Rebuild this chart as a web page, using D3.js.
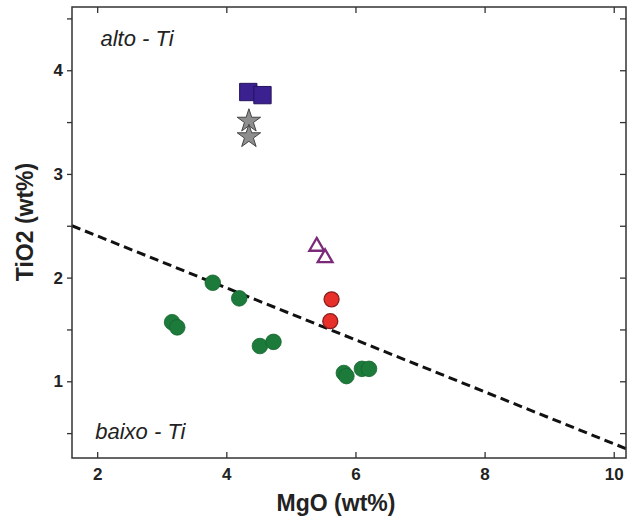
<!DOCTYPE html>
<html>
<head>
<meta charset="utf-8">
<script src="https://cdn.jsdelivr.net/npm/d3@7"></script>
<style>
  html, body { margin: 0; padding: 0; background: #fff; }
  svg { display: block; }
</style>
</head>
<body>
<svg id="chart" width="627" height="519"></svg>
<script>
// ---- data ----
const xTicks = [2, 4, 6, 8, 10];
const yMajorTicks = [1, 2, 3, 4];
const yAllTicks = [0.5, 1, 1.5, 2, 2.5, 3, 3.5, 4, 4.5];

const greenMgO  = [3.79, 4.20, 3.16, 3.24, 4.52, 4.73, 5.82, 5.86, 6.10, 6.21];
const greenTiO2 = [1.95, 1.80, 1.57, 1.52, 1.34, 1.38, 1.08, 1.05, 1.12, 1.12];

const redMgO  = [5.63, 5.61];
const redTiO2 = [1.79, 1.58];

const squareMgO  = [4.34, 4.56];
const squareTiO2 = [3.79, 3.76];

const starMgO  = [4.35, 4.35];
const starTiO2 = [3.51, 3.36];

const triMgO  = [5.40, 5.53];
const triTiO2 = [2.30, 2.19];

const lineMgO  = [1.61, 10.19];
const lineTiO2 = [2.50, 0.35];

const labels = [
  { text: "alto - Ti",  x: 2.05, y: 4.23 },
  { text: "baixo - Ti", x: 1.97, y: 0.44 }
];

// ---- layout ----
const svg = d3.select("#chart");
const L = 72, R = 626, T = 7, B = 458;
const x = d3.scaleLinear().domain([1.61, 10.19]).range([L, R]);
const y = d3.scaleLinear().domain([0.26, 4.61]).range([B, T]);

const axisColor = "#333";
const fontFam = "'Liberation Sans', Arial, sans-serif";

// dashed line
svg.append("path")
  .datum(lineMgO.map((m, i) => [m, lineTiO2[i]]))
  .attr("d", d3.line().x(d => x(d[0])).y(d => y(d[1])))
  .attr("fill", "none")
  .attr("stroke", "#111")
  .attr("stroke-width", 3)
  .attr("stroke-dasharray", "9,5");

// axes
function styleAxis(g) {
  g.selectAll(".domain").remove();
  g.selectAll(".tick line").attr("stroke", axisColor).attr("stroke-width", 1.3);
  g.selectAll(".tick text")
    .attr("fill", "#222")
    .style("font-family", fontFam)
    .style("font-weight", "bold")
    .style("font-size", "17px");
}

svg.append("g").attr("transform", `translate(0,${B})`)
  .call(d3.axisBottom(x).tickValues(xTicks).tickSize(-6).tickPadding(10).tickFormat(d3.format("d")))
  .call(styleAxis);

svg.append("g").attr("transform", `translate(0,${T})`)
  .call(d3.axisTop(x).tickValues(xTicks).tickSize(-6).tickFormat(""))
  .call(styleAxis);

svg.append("g").attr("transform", `translate(${L},0)`)
  .call(d3.axisLeft(y).tickValues(yAllTicks).tickSize(5).tickPadding(4)
    .tickFormat(d => yMajorTicks.includes(d) ? d3.format("d")(d) : ""))
  .call(styleAxis);

svg.append("g").attr("transform", `translate(${R},0)`)
  .call(d3.axisRight(y).tickValues(yAllTicks).tickSize(-6).tickFormat(""))
  .call(styleAxis);

// frame
svg.append("rect")
  .attr("x", L).attr("y", T).attr("width", R - L).attr("height", B - T)
  .attr("fill", "none").attr("stroke", axisColor).attr("stroke-width", 1.5);

// axis titles
svg.append("text")
  .attr("x", 336).attr("y", 511)
  .attr("text-anchor", "middle")
  .style("font-family", fontFam).style("font-weight", "bold").style("font-size", "23px")
  .attr("fill", "#222")
  .text("MgO (wt%)");

svg.append("text")
  .attr("transform", `translate(33,222) rotate(-90)`)
  .attr("text-anchor", "middle")
  .style("font-family", fontFam).style("font-weight", "bold").style("font-size", "23px")
  .attr("fill", "#222")
  .text("TiO2 (wt%)");

// region labels
svg.selectAll(".lbl").data(labels).enter().append("text")
  .attr("x", d => x(d.x)).attr("y", d => y(d.y))
  .style("font-family", fontFam).style("font-style", "italic").style("font-size", "22px")
  .attr("fill", "#222")
  .text(d => d.text);

// markers
function pts(xs, ys) { return xs.map((m, i) => [m, ys[i]]); }

svg.append("g").selectAll("circle").data(pts(greenMgO, greenTiO2)).enter().append("circle")
  .attr("cx", d => x(d[0])).attr("cy", d => y(d[1])).attr("r", 7.8)
  .attr("fill", "#1c7a3a").attr("stroke", "#15652f").attr("stroke-width", 0.8);

svg.append("g").selectAll("circle").data(pts(redMgO, redTiO2)).enter().append("circle")
  .attr("cx", d => x(d[0])).attr("cy", d => y(d[1])).attr("r", 7.5)
  .attr("fill", "#e8302a").attr("stroke", "#8a1d1d").attr("stroke-width", 1.3);

svg.append("g").selectAll("path").data(pts(squareMgO, squareTiO2)).enter().append("path")
  .attr("transform", d => `translate(${x(d[0])},${y(d[1])})`)
  .attr("d", d3.symbol(d3.symbolSquare, 300)())
  .attr("fill", "#3b2090").attr("stroke", "#24135e").attr("stroke-width", 1);

svg.append("g").selectAll("path").data(pts(starMgO, starTiO2)).enter().append("path")
  .attr("transform", d => `translate(${x(d[0])},${y(d[1])})`)
  .attr("d", d3.symbol(d3.symbolStar, 170)())
  .attr("fill", "#8e8e8e").attr("stroke", "#444").attr("stroke-width", 1);

svg.append("g").selectAll("path").data(pts(triMgO, triTiO2)).enter().append("path")
  .attr("transform", d => `translate(${x(d[0])},${y(d[1])})`)
  .attr("d", d3.symbol(d3.symbolTriangle, 95)())
  .attr("fill", "#fff").attr("stroke", "#7a2a78").attr("stroke-width", 2.3);
</script>
</body>
</html>
